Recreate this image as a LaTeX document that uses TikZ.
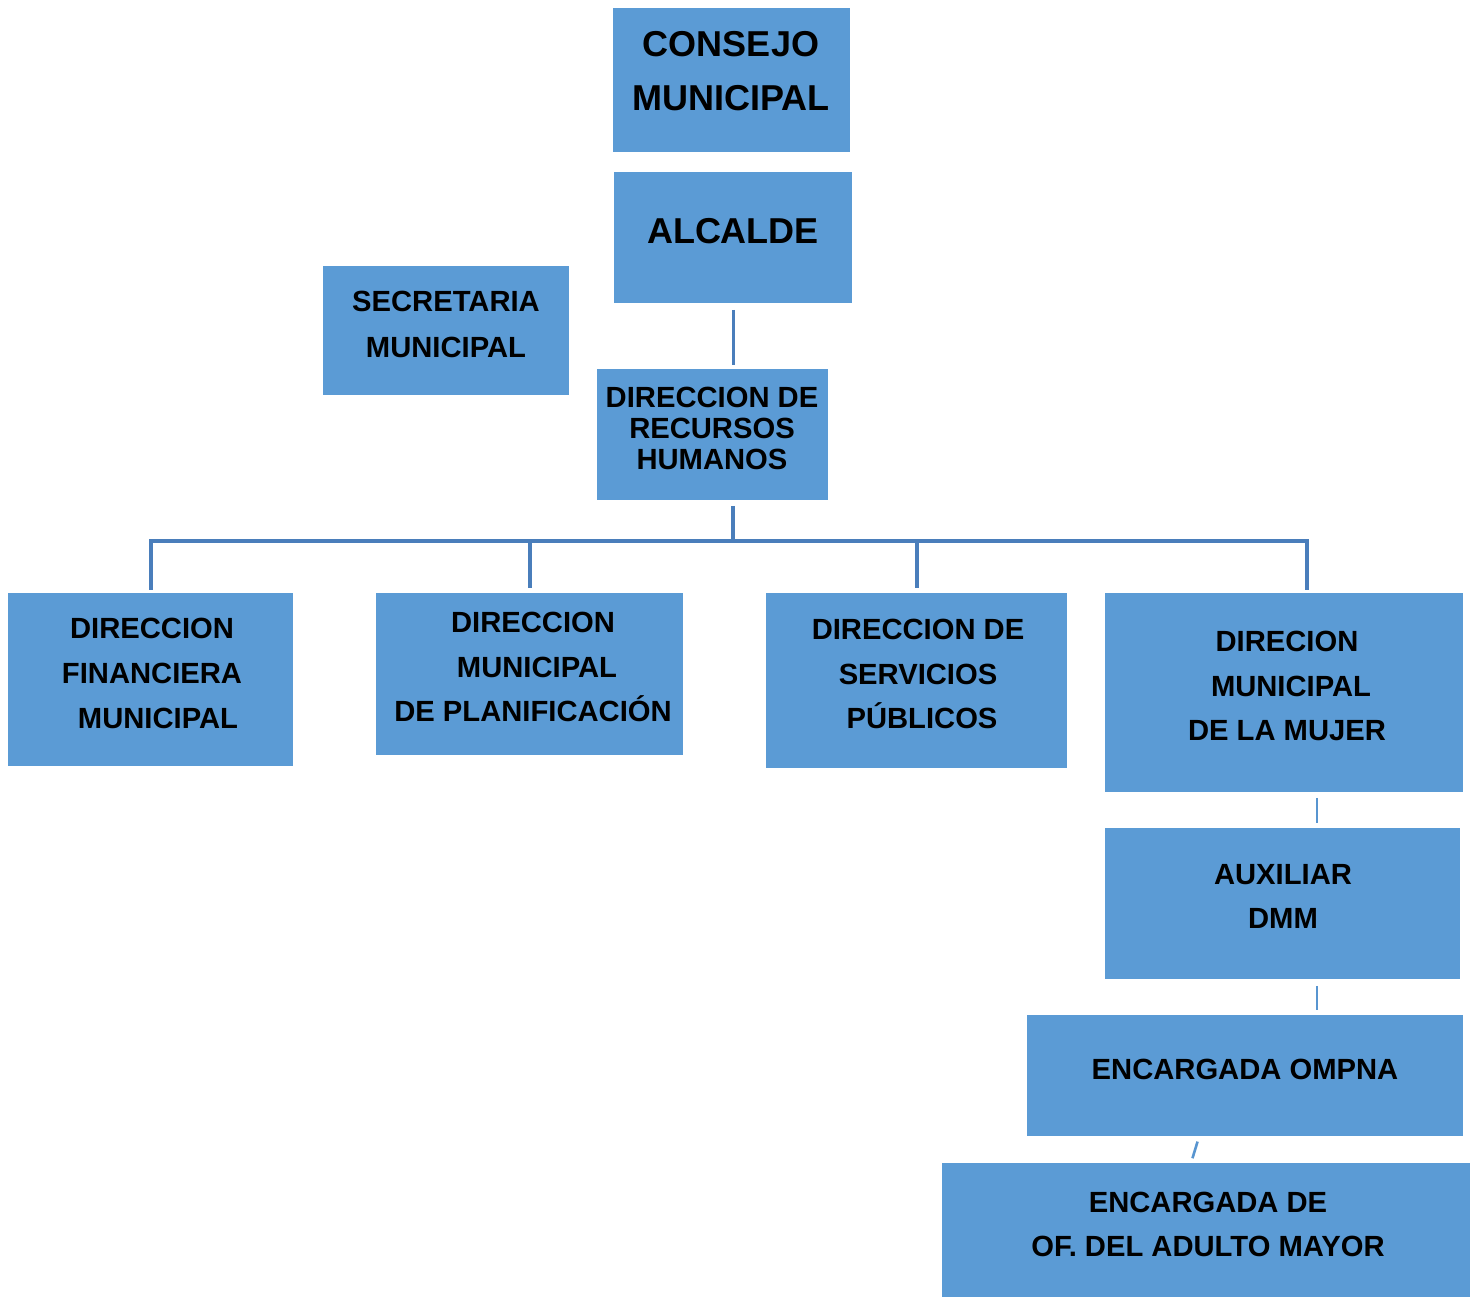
\documentclass[tikz,border=0pt]{standalone}
\usepackage{fontspec}
\setmainfont{Liberation Sans}
\definecolor{boxblue}{HTML}{5B9BD5}
\definecolor{lineblue}{HTML}{4A7EBB}
\begin{document}
\begin{tikzpicture}[x=0.5pt,y=-0.5pt,
  box/.style={fill=boxblue, draw=none, inner sep=0pt, anchor=north west},
  lbl/.style={align=center, inner sep=0pt, font=\bfseries\fontsize{14.6}{22.3}\selectfont},
  biglbl/.style={align=center, inner sep=0pt, font=\bfseries\fontsize{18}{27}\selectfont},
  conn/.style={draw=lineblue, line width=1.6pt},
  thinconn/.style={draw=boxblue!80!lineblue, line width=1.3pt}]
\useasboundingbox (0,0) rectangle (1470,1297);
\newcommand\orgbox[5]{\node[box, minimum width={(#4-#2)*0.5pt}, minimum height={(#5-#3)*0.5pt}] (#1) at (#2,#3) {};}
% boxes
\orgbox{cons}{613}{8}{850}{152}
\orgbox{alc}{614}{172}{852}{303}
\orgbox{sec}{323}{266}{569}{395}
\orgbox{drh}{597}{369}{828}{500}
\orgbox{dfm}{8}{593}{293}{766}
\orgbox{dmp}{376}{593}{683}{755}
\orgbox{dsp}{766}{593}{1067}{768}
\orgbox{dmm}{1105}{593}{1463}{792}
\orgbox{aux}{1105}{828}{1460}{979}
\orgbox{omp}{1027}{1015}{1463}{1136}
\orgbox{adu}{942}{1163}{1470}{1297}
% labels
\node[biglbl] (tcons) at (731,71) {CONSEJO\\MUNICIPAL};
\node[biglbl] (talc) at (733,231) {ALCALDE};
\node[lbl, font=\bfseries\fontsize{14.6}{23}\selectfont] (tsec) at (446,324) {SECRETARIA\\MUNICIPAL};
\node[lbl, font=\bfseries\fontsize{14.6}{15.5}\selectfont] (tdrh) at (712,428) {DIRECCION DE\\RECURSOS\\HUMANOS};
\node[lbl] (tdfm) at (152,673.5) {DIRECCION\\FINANCIERA\\\hspace{6pt}MUNICIPAL};
\node[lbl] (tdmp) at (533,667) {DIRECCION\\\hspace{4pt}MUNICIPAL\\DE PLANIFICACIÓN};
\node[lbl] (tdsp) at (918,674) {DIRECCION DE\\SERVICIOS\\\hspace{4pt}PÚBLICOS};
\node[lbl] (tdmm) at (1287,686) {DIRECION\\\hspace{4pt}MUNICIPAL\\DE LA MUJER};
\node[lbl] (taux) at (1283,896.5) {AUXILIAR\\DMM};
\node[lbl] (tomp) at (1245,1069) {ENCARGADA OMPNA};
\node[lbl] (tadu) at (1208,1224.5) {ENCARGADA DE\\OF. DEL ADULTO MAYOR};
% connectors
\coordinate (bus) at (733,541);
\coordinate (mujin) at (1307,593);
\draw[conn, shorten <=3pt, shorten >=2pt] (alc.south) -- (alc.south |- drh.north);
\draw[conn, shorten <=2.5pt] (drh.south -| bus) -- (bus);
\draw[conn, line cap=rect, shorten >=2.5pt] (dfm.north |- bus) -- (dfm.north);
\draw[conn, line cap=rect] (dfm.north |- bus) -- (mujin |- bus);
\draw[conn, shorten >=2.5pt] (dmp.north |- bus) -- (dmp.north);
\draw[conn, shorten >=2.5pt] (dsp.north |- bus) -- (dsp.north);
\draw[conn, line cap=rect, shorten >=2.5pt] (mujin |- bus) -- (mujin);
\draw[thinconn, shorten <=2.5pt, shorten >=2.5pt] (dmm.south -| 1317,0) -- (aux.north -| 1317,0);
\draw[thinconn, shorten <=3pt, shorten >=2.5pt] (aux.south -| 1317,0) -- (omp.north -| 1317,0);
\draw[thinconn, shorten <=2.5pt, shorten >=2.5pt] (omp.south -| 1199,0) -- (adu.north -| 1191,0);
\end{tikzpicture}
\end{document}
